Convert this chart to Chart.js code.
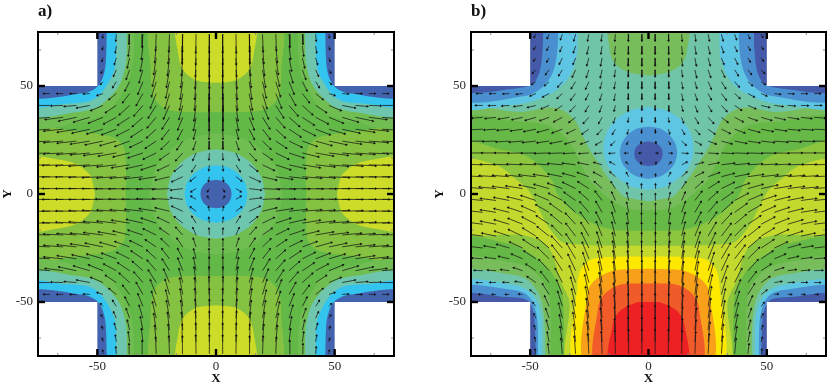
<!DOCTYPE html>
<html>
<head>
<meta charset="utf-8">
<title>Flow fields</title>
<script src="https://cdn.jsdelivr.net/npm/chart.js@4"></script>
<style>
  html, body { margin: 0; padding: 0; background: #fff; }
  canvas { position: absolute; top: 0; }
  #panelA { left: 0; }
  #panelB { left: 432px; }
</style>
</head>
<body>
<canvas id="panelA" width="418" height="386"></canvas>
<canvas id="panelB" width="405" height="386"></canvas>
<script>
// axis
const tickValues = [-50, 0, 50];
const tickLabels = ["-50", "0", "50"];
const minorTicks = [-66.67, -33.33, -16.67, 16.67, 33.33, 66.67];

// arrow grid, right half only (left half is the mirror)
const columnX = [2.8, 8.4, 14, 19.6, 25.2, 30.8, 36.4, 42, 47.6, 53.2, 58.8, 64.4, 70];

// panel a: one quadrant, rows from the centre line up to the top edge
const aRowY = [2.5, 8, 13.5, 19, 24.5, 30, 35.5, 41, 46.5, 52, 57.5, 63, 68.5, 74];
const aAngle = [
  [-60, -35, -8, -3, -2, -1, -1, -1, 0, 0, 0, 0, 0],
  [-80, -40, -27, -15, -10, -7, -5, -4, -3, -2, -1, -1, 0],
  [-85, -60, -40, -28, -20, -14, -10, -7, -5, -4, -3, -2, -1],
  [-87, -68, -50, -38, -28, -20, -15, -11, -8, -6, -5, -3, -2],
  [-88, -73, -58, -47, -36, -28, -22, -17, -13, -10, -7, -5, -3],
  [-88, -77, -65, -55, -45, -36, -29, -23, -18, -14, -10, -6, -4],
  [-89, -80, -70, -60, -52, -44, -36, -30, -24, -18, -13, -8, -5],
  [-89, -83, -76, -68, -60, -52, -45, -36, -25, -12, -5, -2, 0],
  [-89, -85, -80, -75, -70, -63, -55, -42, -20, -4, 0, 0, 0],
  [-90, -86, -82, -78, -74, -70, -65, -60, -50],
  [-90, -87, -84, -81, -78, -75, -72, -68, -62],
  [-90, -88, -86, -84, -82, -80, -78, -75, -72],
  [-90, -89, -88, -86, -85, -84, -83, -82, -80],
  [-90, -89, -89, -88, -88, -87, -87, -86, -85]
];
const aSpeed = [
  [1.5, 2.5, 5, 7, 8, 8.5, 8.5, 8.5, 8.5, 8.5, 8.5, 8.5, 8.5],
  [2, 3, 5, 6, 7, 7.5, 8, 8, 8.5, 8.5, 8.5, 8.5, 8.5],
  [2.5, 3.5, 4.5, 5.5, 6.5, 7, 7.5, 8, 8, 8.5, 8.5, 8.5, 8.5],
  [3, 3.5, 4.5, 5, 6, 6.5, 7, 7.5, 8, 8, 8, 8, 8],
  [3.5, 4, 4.5, 5, 5.5, 6, 6.5, 7, 7.5, 8, 8, 8, 8],
  [4.5, 4.5, 5, 5.5, 5.5, 6, 6, 6.5, 7, 7.5, 8, 8, 8],
  [6, 6, 6, 6, 6, 6, 6, 6, 6.5, 7, 7.5, 7.5, 7.5],
  [7, 7, 6.5, 6.5, 6.5, 6, 6, 5.5, 5.5, 5.5, 5, 5, 5],
  [8, 7.5, 7.5, 7, 7, 6, 5, 4, 2.5, 2.5, 2.5, 2.5, 2.5],
  [8, 8, 8, 7.5, 7, 6, 4.5, 3, 1.5],
  [8.5, 8.5, 8, 8, 7.5, 6, 4.5, 3, 1.5],
  [8.5, 8.5, 8, 8, 7.5, 6, 4.5, 3, 1.5],
  [8.5, 8.5, 8, 8, 7.5, 6, 4.5, 3, 1.5],
  [8.5, 8.5, 8, 8, 7.5, 6, 4.5, 3, 1.5]
];

// panel b: right half, rows from top edge to bottom edge
const bRowY = [74, 68.5, 63, 57.5, 52, 46.5, 41, 35.5, 30, 24.5, 19, 13.5, 8, 2.5, -3, -8.5, -14, -19.5, -25, -30, -35.5, -41, -46.5, -52, -57.5, -63, -68.5, -74];
const bAngle = [
  [-90, -88, -86, -83, -80, -76, -72, -68, -65],
  [-90, -88, -85, -82, -78, -73, -68, -64, -60],
  [-90, -87, -84, -80, -76, -70, -66, -62, -56],
  [-90, -87, -83, -78, -73, -67, -60, -55, -48],
  [-90, -86, -81, -75, -68, -60, -52, -45, -38],
  [-90, -86, -80, -72, -64, -55, -45, -30, -25, -8, -3, -2, -1],
  [-90, -85, -78, -70, -62, -50, -37, -25, -15, -8, -4, -2, 0],
  [-88, -82, -72, -62, -50, -40, -30, -22, -18, -14, -10, -7, -5],
  [-85, -75, -62, -50, -38, -28, -22, -16, -12, -9, -6, -4, -3],
  [-70, -60, -45, -33, -22, -16, -12, -9, -7, -5, -4, -2, -1],
  [-5, -5, -5, -5, -4, -3, -2, -2, -1, -1, 0, 0, 0],
  [70, 50, 30, 18, 12, 8, 6, 4, 3, 3, 2, 2, 2],
  [80, 65, 45, 30, 22, 16, 12, 9, 7, 6, 5, 4, 3],
  [85, 75, 60, 45, 35, 28, 22, 17, 13, 10, 8, 6, 5],
  [88, 78, 68, 55, 45, 38, 30, 25, 20, 15, 12, 8, 6],
  [88, 80, 72, 62, 52, 45, 38, 32, 26, 20, 15, 10, 7],
  [88, 82, 75, 65, 57, 50, 43, 36, 30, 24, 18, 12, 8],
  [89, 83, 77, 70, 62, 55, 48, 41, 34, 27, 20, 13, 8],
  [89, 85, 80, 73, 66, 58, 50, 43, 36, 27, 18, 11, 7],
  [89, 86, 82, 76, 70, 62, 55, 47, 36, 25, 14, 8, 5],
  [90, 87, 84, 79, 73, 67, 60, 50, 36, 20, 8, 4, 2],
  [90, 87, 85, 81, 76, 71, 65, 55, 38, 10, 3, 1, 0],
  [90, 88, 86, 83, 79, 75, 70, 60, 40, 5, 0, 0, 0],
  [90, 88, 86, 84, 81, 78, 74, 68, 55],
  [90, 89, 87, 85, 83, 80, 77, 72, 68],
  [90, 89, 88, 86, 84, 82, 80, 76, 72],
  [90, 89, 88, 87, 85, 84, 82, 80, 78],
  [90, 90, 89, 88, 87, 86, 85, 84, 82]
];
const bSpeed = [
  [3, 3, 3, 3, 3, 3, 2.5, 2, 1.5],
  [3.5, 3.5, 3.5, 3.5, 3.5, 3, 2.5, 2, 1.5],
  [3.5, 3.5, 3.5, 3.5, 3.5, 3, 3, 2, 1.5],
  [3, 3, 3, 3.5, 3.5, 3.5, 3, 2.5, 2],
  [3, 3, 3, 3, 3.5, 3.5, 3, 2.5, 2],
  [2.5, 2.5, 3, 3, 3, 3.5, 3, 3, 2.5, 2.5, 2.5, 2.5, 2.5],
  [2, 2.5, 2.5, 3, 3, 3.5, 3.5, 3.5, 3.5, 3.5, 3, 3, 3],
  [2, 2, 2.5, 3, 3.5, 3.5, 4, 4, 4.5, 4.5, 4.5, 4.5, 4.5],
  [1.5, 2, 2.5, 3, 3.5, 4, 4.5, 5, 5, 5, 5, 5, 5],
  [1, 1.5, 2.5, 3, 3.5, 4.5, 5, 5, 5.5, 5.5, 5.5, 5.5, 5.5],
  [1, 1.5, 2.5, 3, 4, 5, 5.5, 6, 6, 6, 6, 6, 6],
  [1, 1.5, 2.5, 3.5, 4.5, 5.5, 6, 6, 6.5, 6.5, 6.5, 6.5, 6.5],
  [1, 2, 3, 4, 5, 5.5, 6, 6.5, 7, 7, 7, 7, 7],
  [2, 2.5, 3.5, 4.5, 5.5, 6, 6.5, 6.5, 7, 7, 7, 7, 7],
  [3, 3.5, 4, 5, 5.5, 6, 6.5, 6.5, 6.5, 6.5, 6.5, 6.5, 6.5],
  [4, 4.5, 5, 5.5, 6, 6.5, 6.5, 6.5, 6.5, 6.5, 6.5, 6.5, 6.5],
  [5, 5, 5.5, 6, 6.5, 6.5, 6.5, 6.5, 6.5, 6.5, 6.5, 6.5, 6.5],
  [6, 6, 6.5, 7, 7, 7, 6.5, 6.5, 6.5, 6.5, 6.5, 6, 6],
  [7, 7, 7, 7.5, 7.5, 7.5, 7, 7, 6.5, 6, 5.5, 5, 5],
  [8, 8, 8, 8, 8, 8, 7.5, 7, 6, 5, 4.5, 4.5, 4.5],
  [9, 9, 9, 9, 8.5, 8, 7.5, 6.5, 5, 4, 3.5, 3.5, 3.5],
  [10, 10, 9.5, 9.5, 9, 8, 7, 6, 4.5, 3, 2.5, 2.5, 2.5],
  [10.5, 10.5, 10, 10, 9, 8, 7, 5.5, 3, 1.5, 1.5, 1.5, 1.5],
  [11, 11, 10.5, 10, 9, 8, 7, 5, 2],
  [11, 11, 10.5, 10, 9, 8, 7, 4.5, 2],
  [11, 11, 10.5, 10, 9, 8, 7, 4.5, 2],
  [11, 11, 10.5, 10, 9, 8, 7, 4.5, 2],
  [11, 11, 10.5, 10, 9, 8, 7, 4.5, 2]
];

// panel a contours (top right part of each shape)
const aTopLight = [[0, 38], [13, 38], [21.4, 39.5], [26.4, 45], [27.5, 57], [26.4, 80]];
const aTopYellow = [[0, 51.5], [8, 52.6], [13.6, 57], [15.8, 64], [16, 80]];
const aSideLight = [[38, 0], [38, 15], [39, 22], [43, 26], [50, 27.8], [60, 29], [80, 30.5]];
const aSideYellow = [[51, 0], [51.5, 3], [53, 8.6], [57.8, 13.2], [64, 15.5], [80, 16]];
const aCornerSage = [[34.7, 80], [34.7, 65], [36, 55], [39.7, 46.5], [46, 37.5], [56.5, 33.5], [80, 31.8], [80, 80]];
const aCornerTeal = [[37.6, 80], [37.8, 62], [40, 52], [44, 45.7], [50, 40.3], [58, 38], [80, 37.3], [80, 80]];
const aCornerCyan = [[42, 80], [42.3, 60], [44.8, 52.5], [49, 46], [53.7, 42.8], [63, 41.8], [80, 41.5], [80, 80]];
const aCornerBlue = [[46, 80], [46.5, 60], [48, 53], [50.7, 49], [56, 46.6], [80, 46], [80, 80]];
const cornerWhite = [[50, 80], [50, 50], [80, 50], [80, 80]];
const aRingSage = [[28, 0], [25.9, 10.7], [19.8, 19.8], [10.7, 25.9], [0, 28]];
const aRingTeal = [[20.7, 0], [19.1, 7.9], [14.6, 14.6], [7.9, 19.1], [0, 20.7]];
const aRingCyan = [[13.3, 0], [12.3, 5.1], [9.4, 9.4], [5.1, 12.3], [0, 13.3]];
const aRingBlue = [[6.6, 0], [6.1, 2.5], [4.7, 4.7], [2.5, 6.1], [0, 6.6]];

// panel b contours (right half of each shape)
const bTopSage = [[0, 54.8], [8.6, 56.5], [14.2, 60.4], [16.3, 66.6], [16.3, 80]];
const bSage = [[0, -3.5], [7.6, -2], [10.6, -1], [16.3, 6.3], [21, 14], [25.5, 21.7], [28.3, 28], [31, 34], [36, 38.7], [41.7, 40], [52.9, 38], [80, 37], [80, -80]];
const bGreen = [[0, -7.6], [8, -7], [14, -4], [17.7, -1], [24.8, 6.3], [29, 14.7], [32.5, 22.5], [37.5, 28.7], [43, 32], [53, 33.3], [80, 33.5], [80, -80]];
const bLight = [[0, -17], [14.8, -16.6], [24.8, -13], [34.6, -5.3], [38.9, 0.8], [40.3, 5.5], [46, 13.2], [53, 18.3], [61.3, 20.2], [80, 23.3], [80, -80]];
const bYellowGreen = [[0, -24], [15, -24], [28, -23.5], [36, -22.5], [40, -18.5], [43, -14], [46, -7.7], [50.7, 1.6], [57, 7.8], [64, 13.2], [80, 15.5], [80, -16.5], [54, -19], [45.6, -21.6], [41.4, -26], [39.3, -32], [37.2, -40], [33.4, -50], [33, -80]];
const bYellow = [[0, -29], [13, -29], [23.3, -30], [28.4, -34.6], [30, -42], [30, -80]];
const bOrange = [[0, -34.6], [14.8, -35.5], [22, -39.4], [25.5, -44.8], [25.8, -80]];
const bRedOrange = [[0, -41.4], [12, -42], [18.5, -46.2], [21.3, -52.5], [21.6, -80]];
const bRed = [[0, -50], [5, -50.2], [12, -54], [15, -60], [15.9, -80]];
const bLowSage = [[41.4, -80], [41.4, -53], [43, -43], [47.3, -37], [53, -33], [62.8, -30.8], [80, -30], [80, -80]];
const bLowGreen = [[35.8, -80], [35.8, -60], [36.5, -47], [40, -38], [44.5, -32], [50, -27.5], [58.6, -23], [80, -21.6], [80, -80]];
const bLowTeal = [[43.6, -80], [44, -58], [46, -47], [50.7, -40], [57, -37.4], [80, -37], [80, -80]];
const bLowSky = [[44.9, -80], [45.2, -58], [46.8, -50.5], [50.7, -44.8], [57, -42], [80, -41.4], [80, -80]];
const bLowBlue = [[46.6, -80], [47, -58], [48.8, -50.5], [51.5, -46.5], [57, -44.5], [80, -44], [80, -80]];
const bLowDark = [[47.5, -80], [48.2, -58], [49.5, -52], [52, -48.7], [60, -47.7], [80, -47.5], [80, -80]];
const bHighSky = [[30, 80], [30.4, 63.4], [33.9, 53.5], [40.3, 47], [50, 42.6], [60, 41], [80, 40.6], [80, 80]];
const bHighBlue = [[38, 80], [38.6, 65], [40.5, 56], [44.7, 49.5], [51.5, 45.5], [80, 44.4], [80, 80]];
const bHighDark = [[44.4, 80], [44.8, 66], [46, 56.5], [49, 51], [55.8, 48.9], [80, 48.7], [80, 80]];
const bRingSky = [[0, 40.3], [7.3, 38.8], [13.4, 34.8], [17.6, 28.6], [19, 21], [17.6, 13.8], [13.4, 8], [7.3, 3.5], [0, 2]];
const bRingBlue = [[0, 31.3], [4.6, 30.4], [8.5, 27.7], [11.2, 23.7], [12.1, 19.2], [11.2, 14.6], [8.5, 10.7], [4.6, 8], [0, 7]];
const bRingDark = [[0, 24.3], [2.3, 23.9], [4.3, 22.7], [5.6, 20.9], [6, 18.6], [5.6, 16.3], [4.3, 14.5], [2.3, 13.3], [0, 12.9]];

// mirror helpers for the two symmetric pictures
const flipY = pts => pts.map(([x, y]) => [x, -y]);
const flipX = pts => pts.map(([x, y]) => [-x, y]);
const closeX = pts => pts.concat(flipX(pts).reverse());
const closeY = pts => pts.concat(flipY(pts).reverse());
const fourWay = q => {
  const top = closeX(q);
  return top.concat(flipY(top).reverse());
};
const everyCorner = q => [q, flipX(q), flipY(q), flipX(flipY(q))];

function shapes(list, color, tension = 0.3) {
  return list.map(pts => ({
    type: "scatter",
    showLine: true,
    data: pts.map(([x, y]) => ({ x, y })),
    backgroundColor: color,
    borderWidth: 0,
    pointRadius: 0,
    tension,
    fill: "shape"
  }));
}

// one dataset of shafts and one of heads, from the tables above
function arrows(rowY, angle, speed, quadrant) {
  const shaft = [];
  const head = [];
  const turn = [];
  const add = (x, y, a, s) => {
    const rad = a * Math.PI / 180;
    const tx = x + s * Math.cos(rad);
    const ty = y + s * Math.sin(rad);
    shaft.push({ x, y }, { x: tx, y: ty }, { x: null, y: null });
    head.push({ x: tx, y: ty });
    turn.push(90 - Math.atan2(Math.sin(rad) * 2.156, Math.cos(rad) * 2.37) * 180 / Math.PI);
  };
  rowY.forEach((y, r) => {
    angle[r].forEach((a, c) => {
      const x = columnX[c];
      const s = speed[r][c];
      add(x, y, a, s);
      add(-x, y, 180 - a, s);
      if (quadrant) {
        add(x, -y, -a, s);
        add(-x, -y, 180 + a, s);
      }
    });
  });
  return [
    { type: "scatter", showLine: true, spanGaps: false, data: shaft, borderColor: "#161616", borderWidth: 0.75, pointRadius: 0, fill: false },
    { type: "scatter", showLine: false, data: head, pointStyle: "triangle", pointRadius: 1.6, pointRotation: turn, pointBackgroundColor: "#111", pointBorderWidth: 0 }
  ];
}

const framePlugin = {
  id: "frame",
  afterDatasetsDraw(chart) {
    const { ctx, chartArea: a, scales } = chart;
    const line = (x1, y1, x2, y2) => {
      ctx.beginPath();
      ctx.moveTo(x1, y1);
      ctx.lineTo(x2, y2);
      ctx.stroke();
    };
    const mark = (v, len) => {
      const px = scales.x.getPixelForValue(v);
      const py = scales.y.getPixelForValue(v);
      line(px, a.top, px, a.top + len);
      line(px, a.bottom, px, a.bottom - len);
      line(a.left, py, a.left + len, py);
      line(a.right, py, a.right - len, py);
    };
    ctx.save();
    ctx.strokeStyle = "#8a8a8a";
    ctx.lineWidth = 1;
    minorTicks.forEach(v => mark(v, 3));
    ctx.strokeStyle = "#000";
    ctx.lineWidth = 2.4;
    tickValues.forEach(v => mark(v, 7));
    ctx.lineWidth = 2;
    ctx.strokeRect(a.left, a.top, a.right - a.left, a.bottom - a.top);
    ctx.restore();
  }
};

function drawPanel(id, label, leftWidth, rightPad, datasets) {
  datasets.forEach((d, i) => { d.order = datasets.length - i; });
  const tickFont = { family: "'Liberation Serif', serif", size: 13 };
  const titleFont = { family: "'Liberation Serif', serif", size: 13, weight: "bold" };
  const axis = size => ({
    type: "linear",
    min: -75,
    max: 75,
    afterBuildTicks: s => { s.ticks = tickValues.map(value => ({ value })); },
    afterFit: s => { if (s.axis === "x") s.height = 30; else s.width = leftWidth; },
    grid: { display: false, drawTicks: false },
    border: { display: false },
    ticks: {
      font: tickFont,
      color: "#2a2a2a",
      padding: size,
      maxRotation: 0,
      autoSkip: false,
      callback: v => tickLabels[tickValues.indexOf(v)]
    }
  });
  new Chart(document.getElementById(id), {
    type: "scatter",
    data: { datasets },
    options: {
      responsive: false,
      animation: false,
      layout: { padding: { left: 0, right: rightPad, top: 0, bottom: 0 } },
      events: [],
      plugins: {
        legend: { display: false },
        tooltip: { enabled: false },
        title: {
          display: true,
          text: label,
          align: "start",
          fullSize: false,
          color: "#111",
          font: { family: "'Liberation Serif', serif", size: 17, weight: "bold", lineHeight: 1 },
          padding: { top: 3, bottom: 12 }
        }
      },
      scales: {
        x: { ...axis(3), title: { display: true, text: "X", color: "#111", font: titleFont, padding: 0 } },
        y: { ...axis(5), title: { display: true, text: "Y", color: "#111", font: titleFont, padding: 0 } }
      }
    },
    plugins: [framePlugin]
  });
}

const panelA = [
  ...shapes([[[-80, 80], [80, 80], [80, -80], [-80, -80]]], "#63b948", 0),
  ...shapes([closeX(aTopLight), flipY(closeX(aTopLight)), closeY(aSideLight), flipX(closeY(aSideLight))], "#86c241"),
  ...shapes([closeX(aTopYellow), flipY(closeX(aTopYellow)), closeY(aSideYellow), flipX(closeY(aSideYellow))], "#cddc28"),
  ...shapes(everyCorner(aCornerSage), "#70bd52"),
  ...shapes(everyCorner(aCornerTeal), "#6fc6ae"),
  ...shapes(everyCorner(aCornerCyan), "#33c4f0"),
  ...shapes(everyCorner(aCornerBlue), "#4363ae"),
  ...shapes(everyCorner(cornerWhite), "#ffffff", 0),
  ...shapes([fourWay(aRingSage)], "#70bd52"),
  ...shapes([fourWay(aRingTeal)], "#6fc6ae"),
  ...shapes([fourWay(aRingCyan)], "#33c4f0"),
  ...shapes([fourWay(aRingBlue)], "#4363ae"),
  ...arrows(aRowY, aAngle, aSpeed, true)
];

const panelB = [
  ...shapes([[[-80, 80], [80, 80], [80, -80], [-80, -80]]], "#70c5a8", 0),
  ...shapes([closeX(bTopSage), closeX(bSage)], "#77bd5b"),
  ...shapes([closeX(bGreen)], "#66b946"),
  ...shapes([closeX(bLight)], "#8cc63f"),
  ...shapes([closeX(bYellowGreen)], "#c4d92e"),
  ...shapes([closeX(bYellow)], "#fde800"),
  ...shapes([closeX(bOrange)], "#f9a01b"),
  ...shapes([closeX(bRedOrange)], "#f15a29"),
  ...shapes([closeX(bRed)], "#ed2024"),
  ...shapes([bLowGreen, flipX(bLowGreen)], "#66b946"),
  ...shapes([bLowSage, flipX(bLowSage)], "#77bd5b"),
  ...shapes([bLowTeal, flipX(bLowTeal)], "#70c5a8"),
  ...shapes([bLowSky, flipX(bLowSky), bHighSky, flipX(bHighSky)], "#5ec6e2"),
  ...shapes([bLowBlue, flipX(bLowBlue), bHighBlue, flipX(bHighBlue)], "#4a90d0"),
  ...shapes([bLowDark, flipX(bLowDark), bHighDark, flipX(bHighDark)], "#4459a8"),
  ...shapes([closeX(bRingSky)], "#5ec6e2"),
  ...shapes([closeX(bRingBlue)], "#4a90d0"),
  ...shapes([closeX(bRingDark)], "#4459a8"),
  ...shapes([cornerWhite, flipX(cornerWhite), flipY(cornerWhite), flipX(flipY(cornerWhite))], "#ffffff", 0),
  ...arrows(bRowY, bAngle, bSpeed, false)
];

drawPanel("panelA", "a)", 38, 24, panelA);
drawPanel("panelB", "b)", 39, 11, panelB);
</script>
</body>
</html>
